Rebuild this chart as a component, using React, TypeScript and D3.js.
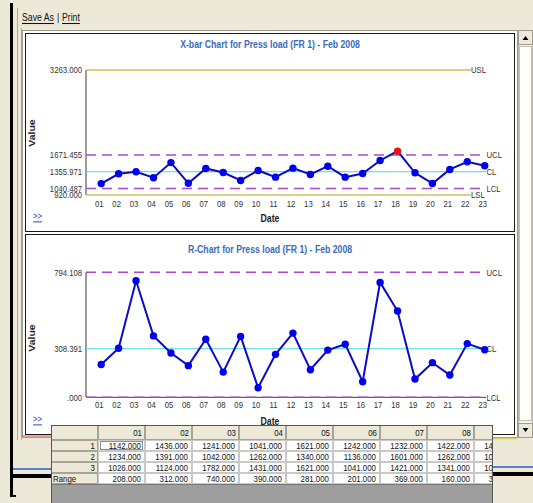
import React from 'react';
import * as d3 from 'd3';

const dates = ['01','02','03','04','05','06','07','08','09','10','11','12','13','14','15','16','17','18','19','20','21','22','23'];
const xbarValues = [1134, 1317, 1355, 1244.7, 1527.3, 1139.7, 1418, 1341.7, 1192, 1380, 1255, 1423, 1305, 1460, 1255, 1324, 1567, 1742, 1337, 1136, 1399, 1543, 1468];
const rangeValues = [208, 312, 740, 390, 281, 201, 369, 160, 387, 61, 273, 408, 175, 300, 337, 99, 730, 548, 116, 220, 142, 341, 302];

const xbarUSL = 3263.0;
const xbarUCL = 1671.455;
const xbarCL = 1355.971;
const xbarLCL = 1040.487;
const xbarLSL = 920.0;

const rUCL = 794.108;
const rCL = 308.391;
const rLCL = 0;

const tableColumns = ['01','02','03','04','05','06','07','08','09'];
const tableRowLabels = ['1','2','3','Range'];
const sample1 = [1142, 1436, 1241, 1041, 1621, 1242, 1232, 1422, 1421];
const sample2 = [1234, 1391, 1042, 1262, 1340, 1136, 1601, 1262, 1034];
const sample3 = [1026, 1124, 1782, 1431, 1621, 1041, 1421, 1341, 1091];
const tableRange = [208, 312, 740, 390, 281, 201, 369, 160, 387];

const FONT = '"Liberation Sans", Arial, sans-serif';
const SX = 0.83;
const BEIGE = '#ECE9D8';

const fmt = (v: number) => d3.format('.3f')(v).replace(/^0\./, '.');

function T({ x, y, children, anchor = 'start', size = 9.3, weight = 'normal', fill = '#1a1a1a', rotate = 0, underline = false }: any) {
  return (
    <text
      transform={`translate(${x},${y}) scale(${SX},1)${rotate ? ` rotate(${rotate})` : ''}`}
      textAnchor={anchor}
      dominantBaseline="central"
      fontFamily={FONT}
      fontSize={size}
      fontWeight={weight}
      fill={fill}
      textDecoration={underline ? 'underline' : undefined}
    >
      {children}
    </text>
  );
}

const xScale = d3.scalePoint<string>().domain(dates).range([101.2, 484.7]);

function ControlChart({ values, domain, range, specs, limits, title, titleY, tickY, dateY, valueY, moreY, isR }: any) {
  const y = d3.scaleLinear().domain(domain).range(range);
  const line = d3.line<number>().x((_, i) => xScale(dates[i]) as number).y((d) => y(d));
  const x0 = 86;
  const tickVals: number[] = [...specs.map((s: any) => s.v), ...limits.map((l: any) => l.v)];
  const ucl = limits.find((l: any) => l.name === 'UCL').v;
  return (
    <g>
      <T x={270} y={titleY} anchor="middle" size={10.5} weight="bold" fill="#3A6CC0">{title}</T>
      {/* left axis */}
      <line x1={x0} x2={x0} y1={range[1]} y2={range[0]} stroke="#3a3a3a" strokeWidth={1} />
      {isR && <line x1={x0} x2={486} y1={range[0]} y2={range[0]} stroke="#3a3a3a" strokeWidth={1} />}
      {/* spec limits */}
      {specs.map((s: any) => (
        <g key={s.name}>
          <line x1={x0} x2={471} y1={y(s.v)} y2={y(s.v)} stroke="#CBC25A" strokeWidth={1.5} />
          <T x={471} y={y(s.v)} size={9.3} fill="#333">{s.name}</T>
        </g>
      ))}
      {/* control limits */}
      {limits.map((l: any) => (
        <g key={l.name}>
          <line
            x1={x0}
            x2={486}
            y1={y(l.v)}
            y2={y(l.v)}
            stroke={l.name === 'CL' ? '#48D4E6' : '#A848CC'}
            strokeWidth={l.name === 'CL' ? 1 : 1.5}
            strokeDasharray={l.name === 'CL' ? undefined : '10,6'}
          />
          <T x={486.5} y={y(l.v)} size={9.3} fill="#333">{l.name}</T>
        </g>
      ))}
      {/* y tick labels */}
      {tickVals.map((v) => (
        <T key={v} x={82} y={y(v)} anchor="end" size={9.3} fill="#333">{fmt(v)}</T>
      ))}
      {/* x tick labels */}
      {dates.map((d) => (
        <T key={d} x={(xScale(d) as number) - 2} y={tickY} anchor="middle" size={9.3} fill="#333">{d}</T>
      ))}
      <T x={270} y={dateY} anchor="middle" size={10.5} weight="bold" fill="#222">Date</T>
      <T x={31.5} y={valueY} anchor="middle" size={10.5} weight="bold" fill="#222" rotate={-90}>Value</T>
      <T x={33} y={moreY} size={9.3} fill="#2233CC" underline>{'>>'}</T>
      {/* data */}
      <path d={line(values) as string} fill="none" stroke="#0A0AC8" strokeWidth={2} />
      {values.map((v: number, i: number) => (
        <circle key={i} cx={xScale(dates[i]) as number} cy={y(v)} r={3.7} fill={v > ucl ? '#F01010' : '#0000F0'} />
      ))}
    </g>
  );
}

function DataTable() {
  const left = 51;
  const right = 493;
  const firstW = 47;
  const colW = 47;
  const headTop = 425;
  const headH = 15;
  const rowH = 11;
  const rows = [sample1, sample2, sample3, tableRange];
  const colX = (i: number) => left + firstW + i * colW;
  const rowY = (r: number) => headTop + headH + r * rowH;
  const bottomRows = rowY(rows.length);
  return (
    <g>
      <defs>
        <clipPath id="tblclip">
          <rect x={left} y={headTop} width={right - left} height={503 - headTop} />
        </clipPath>
      </defs>
      <g clipPath="url(#tblclip)">
        <rect x={left} y={headTop} width={right - left} height={503 - headTop} fill="#9E9E9E" />
        {/* header row */}
        <rect x={left} y={headTop} width={right - left + 60} height={headH} fill={BEIGE} />
        {tableColumns.map((c, i) => (
          <g key={c}>
            <rect x={colX(i) + 0.5} y={headTop + 0.5} width={colW - 1} height={headH - 1} fill={BEIGE} stroke="#A8A495" strokeWidth={1} />
            <T x={colX(i) + colW - 3} y={headTop + headH / 2 + 0.5} anchor="end" size={9.5} fill="#111">{c}</T>
          </g>
        ))}
        <rect x={left + 0.5} y={headTop + 0.5} width={firstW - 1} height={headH - 1} fill={BEIGE} stroke="#A8A495" />
        {rows.map((vals, r) => (
          <g key={r}>
            <rect x={left + 0.5} y={rowY(r) + 0.5} width={firstW - 1} height={rowH - 1} fill={BEIGE} stroke="#A8A495" />
            {r < 3 ? (
              <T x={left + firstW - 3} y={rowY(r) + rowH / 2 + 0.5} anchor="end" size={9.5} fill="#111">{tableRowLabels[r]}</T>
            ) : (
              <T x={left + 2} y={rowY(r) + rowH / 2 + 0.5} size={9.5} fill="#111">{tableRowLabels[r]}</T>
            )}
            {vals.map((v, i) => (
              <g key={i}>
                <rect x={colX(i) + 0.5} y={rowY(r) + 0.5} width={colW - 1} height={rowH - 1} fill="#FFFFFF" stroke="#C8C8C8" />
                <T x={colX(i) + colW - 4} y={rowY(r) + rowH / 2 + 0.5} anchor="end" size={9.5} fill="#111">{d3.format('.3f')(v)}</T>
              </g>
            ))}
          </g>
        ))}
        <rect x={colX(0) + 2.5} y={rowY(0) + 1.5} width={colW - 5} height={rowH - 3} fill="none" stroke="#222" strokeWidth={1} strokeDasharray="1,1" />
        <line x1={left} x2={right} y1={bottomRows + 0.5} y2={bottomRows + 0.5} stroke="#777" />
      </g>
      <rect x={left + 0.5} y={headTop + 0.5} width={right - left - 1} height={503 - headTop} fill="none" stroke="#555" />
    </g>
  );
}

export default function App() {
  return (
    <svg width={533} height={503} style={{ position: 'absolute', left: 0, top: 0, display: 'block' }}>
      <rect x={0} y={0} width={533} height={503} fill={BEIGE} />
      {/* window chrome */}
      <rect x={10} y={3} width={3} height={494} fill="#000" />
      <rect x={10} y={495} width={6} height={2} fill="#000" />
      <line x1={17.5} x2={17.5} y1={8} y2={440} stroke="#A9A69A" />
      <line x1={21.5} x2={21.5} y1={28} y2={440} stroke="#A9A69A" />
      <T x={22} y={17} size={10.5} fill="#111" underline>Save As</T>
      <T x={22 + 35} y={17} size={10.5} fill="#111">|</T>
      <T x={22 + 40} y={17} size={10.5} fill="#111" underline>Print</T>
      {/* white content region */}
      <rect x={22.5} y={30.5} width={495} height={407} fill="#FFFFFF" stroke="#9C9A90" />
      {/* panels */}
      <rect x={25.5} y={33.5} width={489} height={198} fill="#FFFFFF" stroke="#1a1a1a" />
      <rect x={25.5} y={234.5} width={489} height={200} fill="#FFFFFF" stroke="#1a1a1a" />
      {/* scrollbar */}
      <rect x={518.5} y={30.5} width={14} height={407} fill="#F4F3EE" stroke="#B8B5A8" />
      <rect x={519.5} y={46.5} width={12} height={374} fill="#FDFDFB" stroke="#C4C1B4" />
      <rect x={518.5} y={30.5} width={14} height={14} fill={BEIGE} stroke="#A09D90" />
      <path d="M522.5,40 L525.5,36 L528.5,40 Z" fill="#000" />
      <rect x={518.5} y={423.5} width={14} height={14} fill={BEIGE} stroke="#A09D90" />
      <path d="M522.5,428 L525.5,432 L528.5,428 Z" fill="#000" />
      {/* bottom decorative lines */}
      <line x1={22} x2={51} y1={436} y2={436} stroke="#D05040" strokeWidth={1} />
      <line x1={493} x2={517} y1={438.5} y2={438.5} stroke="#D8D060" strokeWidth={1.5} />
      <rect x={13} y={468} width={38} height={2} fill="#5A7FC8" />
      <rect x={13} y={474} width={38} height={4} fill="#000" />
      <rect x={493} y={466} width={40} height={2} fill="#5A7FC8" />
      <rect x={493} y={472} width={40} height={4} fill="#000" />

      <ControlChart
        values={xbarValues}
        domain={[xbarLSL, xbarUSL]}
        range={[195, 70]}
        specs={[{ name: 'USL', v: xbarUSL }, { name: 'LSL', v: xbarLSL }]}
        limits={[{ name: 'UCL', v: xbarUCL }, { name: 'CL', v: xbarCL }, { name: 'LCL', v: xbarLCL }]}
        title="X-bar Chart for Press load (FR 1) - Feb  2008"
        titleY={44}
        tickY={204}
        dateY={218}
        valueY={133}
        moreY={216}
      />
      <ControlChart
        values={rangeValues}
        domain={[rLCL, rUCL]}
        range={[397.3, 272.3]}
        specs={[]}
        limits={[{ name: 'UCL', v: rUCL }, { name: 'CL', v: rCL }, { name: 'LCL', v: rLCL }]}
        title="R-Chart for Press load (FR 1) - Feb  2008"
        titleY={249}
        tickY={405}
        dateY={421}
        valueY={338}
        moreY={419}
        isR
      />
      <DataTable />
    </svg>
  );
}
